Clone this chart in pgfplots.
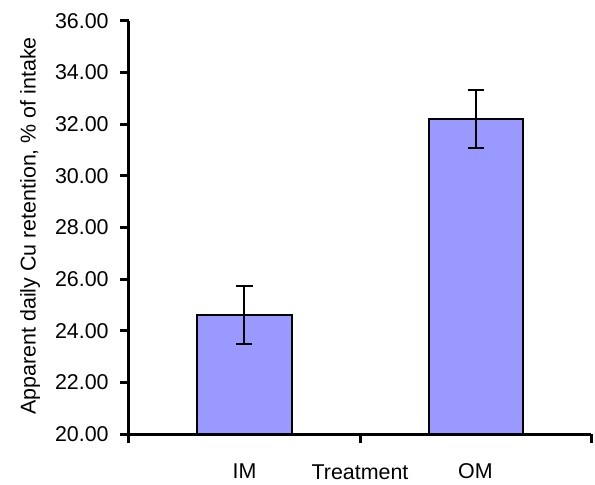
\documentclass[border=0pt]{standalone}
\usepackage{fontspec}
\setmainfont{Liberation Sans}
\usepackage{pgfplots}
\pgfplotsset{compat=1.18}
\definecolor{barblue}{HTML}{9999FF}
\begin{document}
\fontsize{21.5}{25}\selectfont
\begin{tikzpicture}
\path[use as bounding box] (-129bp,-51bp) rectangle (466bp,434bp);
\begin{axis}[
  at={(0,0)}, anchor=south west,
  scale only axis, width=462bp, height=413bp,
  xmin=0, xmax=2, ymin=20, ymax=36,
  axis x line*=bottom, axis y line*=left,
  x axis line style={-, line width=3bp},
  y axis line style={-, line width=3bp},
  every tick/.style={black, line width=3bp},
  tick align=outside,
  major tick length=9bp,
  xtick={0,1,2}, xticklabels={},
  ytick={20,22,...,36},
  /pgf/number format/assume math mode=true,
  yticklabel style={xshift=-4bp, /pgf/number format/.cd, fixed, fixed zerofill, precision=2},
  tick label style={font=\fontsize{21.5}{25}\selectfont},
  label style={font=\fontsize{21.5}{25}\selectfont},
  extra x ticks={0.5,1.5},
  extra x tick labels={IM,OM},
  extra x tick style={major tick length=0pt, tick label style={anchor=base, yshift=-44.5bp}},
  xlabel={Treatment},
  xlabel style={at={(axis description cs:0.5,0)}, anchor=base, yshift=-45.5bp},
  ylabel={Apparent daily Cu retention, \% of intake},
  ylabel style={at={(axis description cs:-0.2143,0.504)}, anchor=center, rotate=0},
  ybar, bar width=94bp,
  clip=true,
]
\addplot[fill=barblue, draw=black, line width=2bp,
  error bars/.cd, y dir=both, y explicit,
  error bar style={line width=2bp, black},
  error mark options={rotate=90, mark size=8bp, line width=2bp, black}]
  coordinates {(0.5,24.6) +- (0,1.12) (1.5,32.2) +- (0,1.12)};
\end{axis}
\end{tikzpicture}
\end{document}
